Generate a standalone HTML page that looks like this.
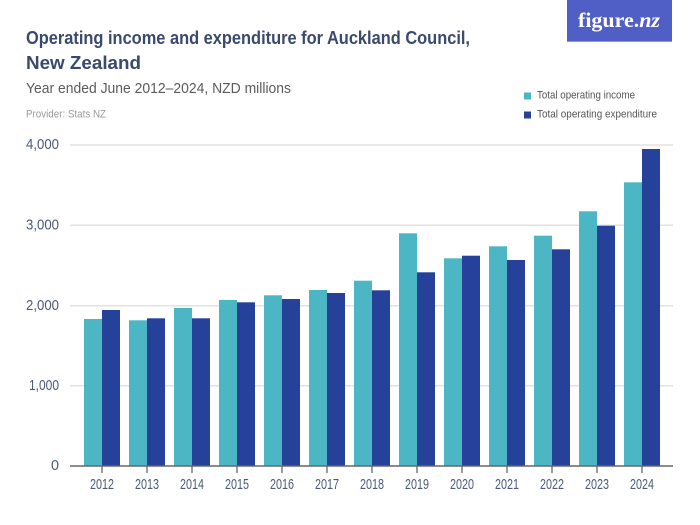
<!DOCTYPE html>
<html><head><meta charset="utf-8"><style>
html,body{margin:0;padding:0;background:#fff;}
svg{display:block;}
</style></head><body>
<svg width="700" height="525" viewBox="0 0 700 525" xmlns="http://www.w3.org/2000/svg" font-family="Liberation Sans, sans-serif">
<rect width="700" height="525" fill="#fff"/>
<!-- logo -->
<rect x="567" y="0" width="105" height="42" fill="#4f5fc6"/>
<rect x="567" y="41" width="105" height="1" fill="#8c96dc"/>
<text x="578" y="27" font-family="Liberation Serif, serif" font-size="21" font-weight="bold" fill="#fff" textLength="82" lengthAdjust="spacingAndGlyphs">figure.<tspan font-style="italic">nz</tspan></text>
<!-- titles -->
<text x="26" y="44" font-size="18" font-weight="bold" fill="#3a4a6d" textLength="444" lengthAdjust="spacingAndGlyphs">Operating income and expenditure for Auckland Council,</text>
<text x="26" y="69" font-size="18" font-weight="bold" fill="#3a4a6d" textLength="115" lengthAdjust="spacingAndGlyphs">New Zealand</text>
<text x="26" y="93" font-size="15" fill="#5b5b5b" textLength="265" lengthAdjust="spacingAndGlyphs">Year ended June 2012–2024, NZD millions</text>
<text x="26" y="117.5" font-size="11" fill="#9a9a9a" textLength="80" lengthAdjust="spacingAndGlyphs">Provider: Stats NZ</text>
<!-- legend -->
<rect x="524" y="92.5" width="7" height="7" fill="#4db6c4"/>
<text x="537" y="98.5" font-size="11" fill="#555" textLength="98" lengthAdjust="spacingAndGlyphs">Total operating income</text>
<rect x="524" y="111.5" width="7" height="7" fill="#26419a"/>
<text x="537" y="117.5" font-size="11" fill="#555" textLength="120" lengthAdjust="spacingAndGlyphs">Total operating expenditure</text>
<!-- grid -->
<g stroke="#e2e2e2" stroke-width="1.5">
<line x1="70" y1="145" x2="673" y2="145"/>
<line x1="70" y1="225.3" x2="673" y2="225.3"/>
<line x1="70" y1="305.7" x2="673" y2="305.7"/>
<line x1="70" y1="385.7" x2="673" y2="385.7"/>
</g>
<!-- y labels -->
<g font-size="15" fill="#4b5a7a" text-anchor="end">
<text x="59" y="149" textLength="33" lengthAdjust="spacingAndGlyphs">4,000</text>
<text x="59" y="229.5" textLength="33" lengthAdjust="spacingAndGlyphs">3,000</text>
<text x="59" y="310" textLength="33" lengthAdjust="spacingAndGlyphs">2,000</text>
<text x="59" y="390" textLength="30" lengthAdjust="spacingAndGlyphs">1,000</text>
<text x="59" y="470" textLength="8" lengthAdjust="spacingAndGlyphs">0</text>
</g>
<!-- bars -->
<g fill="#4db6c4">
<rect x="84" y="319" width="18" height="147"/>
<rect x="129" y="320.3" width="18" height="145.7"/>
<rect x="174" y="308" width="18" height="158"/>
<rect x="219" y="300" width="18" height="166"/>
<rect x="264" y="295.3" width="18" height="170.7"/>
<rect x="309" y="290" width="18" height="176"/>
<rect x="354" y="280.7" width="18" height="185.3"/>
<rect x="399" y="233.3" width="18" height="232.7"/>
<rect x="444" y="258.3" width="18" height="207.7"/>
<rect x="489" y="246.3" width="18" height="219.7"/>
<rect x="534" y="235.7" width="18" height="230.3"/>
<rect x="579" y="211.3" width="18" height="254.7"/>
<rect x="624" y="182.3" width="18" height="283.7"/>
</g>
<g fill="#26419a">
<rect x="102" y="310" width="18" height="156"/>
<rect x="147" y="318.3" width="18" height="147.7"/>
<rect x="192" y="318.3" width="18" height="147.7"/>
<rect x="237" y="302.3" width="18" height="163.7"/>
<rect x="282" y="299" width="18" height="167"/>
<rect x="327" y="293" width="18" height="173"/>
<rect x="372" y="290.3" width="18" height="175.7"/>
<rect x="417" y="272.3" width="18" height="193.7"/>
<rect x="462" y="255.7" width="18" height="210.3"/>
<rect x="507" y="260" width="18" height="206"/>
<rect x="552" y="249.3" width="18" height="216.7"/>
<rect x="597" y="225.7" width="18" height="240.3"/>
<rect x="642" y="149" width="18" height="317"/>
</g>
<!-- axis -->
<line x1="70" y1="466" x2="673" y2="466" stroke="#666" stroke-width="1.5"/>
<g stroke="#666" stroke-width="1.3">
<line x1="102" y1="466" x2="102" y2="473"/>
<line x1="147" y1="466" x2="147" y2="473"/>
<line x1="192" y1="466" x2="192" y2="473"/>
<line x1="237" y1="466" x2="237" y2="473"/>
<line x1="282" y1="466" x2="282" y2="473"/>
<line x1="327" y1="466" x2="327" y2="473"/>
<line x1="372" y1="466" x2="372" y2="473"/>
<line x1="417" y1="466" x2="417" y2="473"/>
<line x1="462" y1="466" x2="462" y2="473"/>
<line x1="507" y1="466" x2="507" y2="473"/>
<line x1="552" y1="466" x2="552" y2="473"/>
<line x1="597" y1="466" x2="597" y2="473"/>
<line x1="642" y1="466" x2="642" y2="473"/>
</g>
<g font-size="15" fill="#4b5a7a" text-anchor="middle">
<text x="102" y="489" textLength="24" lengthAdjust="spacingAndGlyphs">2012</text>
<text x="147" y="489" textLength="24" lengthAdjust="spacingAndGlyphs">2013</text>
<text x="192" y="489" textLength="24" lengthAdjust="spacingAndGlyphs">2014</text>
<text x="237" y="489" textLength="24" lengthAdjust="spacingAndGlyphs">2015</text>
<text x="282" y="489" textLength="24" lengthAdjust="spacingAndGlyphs">2016</text>
<text x="327" y="489" textLength="24" lengthAdjust="spacingAndGlyphs">2017</text>
<text x="372" y="489" textLength="24" lengthAdjust="spacingAndGlyphs">2018</text>
<text x="417" y="489" textLength="24" lengthAdjust="spacingAndGlyphs">2019</text>
<text x="462" y="489" textLength="24" lengthAdjust="spacingAndGlyphs">2020</text>
<text x="507" y="489" textLength="24" lengthAdjust="spacingAndGlyphs">2021</text>
<text x="552" y="489" textLength="24" lengthAdjust="spacingAndGlyphs">2022</text>
<text x="597" y="489" textLength="24" lengthAdjust="spacingAndGlyphs">2023</text>
<text x="642" y="489" textLength="24" lengthAdjust="spacingAndGlyphs">2024</text>
</g>
</svg>
</body></html>
